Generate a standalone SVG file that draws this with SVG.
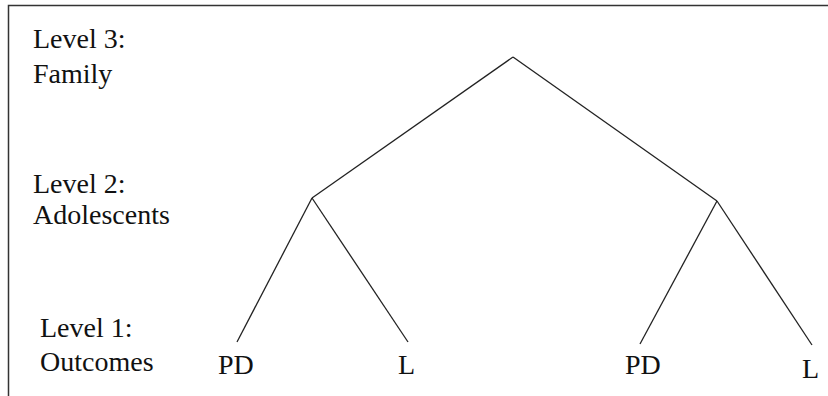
<svg xmlns="http://www.w3.org/2000/svg" width="828" height="396" viewBox="0 0 828 396">
<style>
text{font-family:'Liberation Serif','Times New Roman','DejaVu Serif',serif;font-size:28px;fill:#111}
.ln{stroke:#222;stroke-width:1.3;fill:none}
.bd{stroke:#333;stroke-width:1.5;fill:none}
</style>
<rect width="828" height="396" fill="#fff"/>
<path class="bd" d="M8.5 396V5.5H828"/>
<g id="labels" font-family="Liberation Serif, serif">
<text x="33" y="48">Level 3:</text>
<text x="33" y="83">Family</text>
<text x="33" y="193">Level 2:</text>
<text x="33" y="224">Adolescents</text>
<text x="40" y="337">Level 1:</text>
<text x="40" y="371">Outcomes</text>
</g>
<g id="connectors">
<line class="ln" x1="513" y1="57" x2="312" y2="198"/>
<line class="ln" x1="513" y1="57" x2="717" y2="201"/>
<line class="ln" x1="312" y1="198" x2="237" y2="342"/>
<line class="ln" x1="312" y1="198" x2="408" y2="342"/>
<line class="ln" x1="717" y1="201" x2="640" y2="344"/>
<line class="ln" x1="717" y1="201" x2="812" y2="345"/>
</g>
<g id="leaf-pd1"><text x="218" y="374">PD</text></g>
<g id="leaf-l1"><text x="398" y="374">L</text></g>
<g id="leaf-pd2"><text x="625" y="374">PD</text></g>
<g id="leaf-l2"><text x="802" y="378">L</text></g>
</svg>
